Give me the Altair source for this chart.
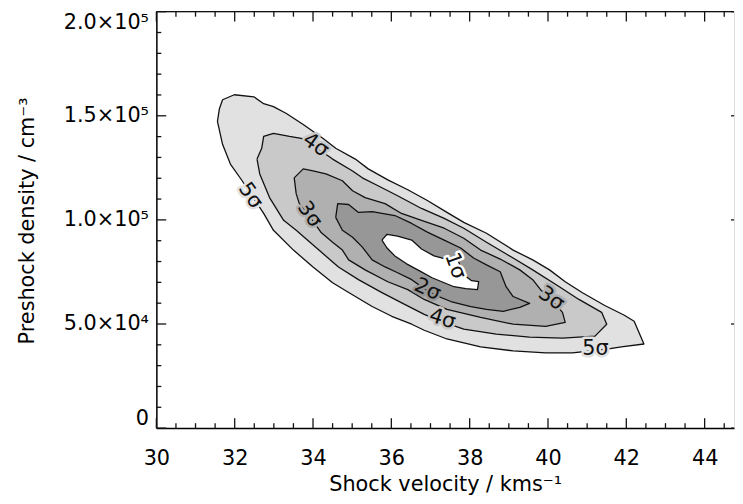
import altair as alt
import pandas as pd

# ---------------- data (velocity km/s, preshock density cm^-3) ----------------
v5 = [31.61, 31.69, 31.99, 32.49, 32.74, 32.99, 33.32, 33.75, 34.25, 34.58, 35.08, 35.41, 35.91,
      36.42, 36.92, 37.42, 37.85, 38.43, 39.11, 39.61, 40.04, 40.44, 40.87, 41.45, 41.95, 42.20,
      42.45, 41.87, 41.55, 40.62, 39.94, 39.11, 38.28, 37.42, 36.84, 36.52, 36.01, 35.51, 34.91,
      34.50, 34.00, 33.50, 32.99, 32.74, 32.44, 32.19, 31.89, 31.69, 31.56]
n5 = [153400, 157700, 160100, 159100, 155800, 154400, 151100, 145800, 139200, 134400, 129200,
      124500, 119200, 114500, 109300, 103600, 98800, 93600, 85500, 80800, 76000, 70300, 65100,
      58900, 54200, 51300, 40400, 39000, 38000, 36100, 36100, 37100, 39000, 42800, 47000, 49900,
      53700, 58400, 65100, 69800, 77400, 85500, 95000, 103100, 111600, 118800, 126800, 136300,
      147300]

v4 = [32.57, 32.69, 32.74, 32.99, 33.40, 33.70, 34.40, 34.50, 35.01, 35.26, 35.66, 36.16, 36.77,
      37.35, 37.85, 38.43, 39.11, 39.61, 40.29, 40.79, 41.37, 41.50, 41.20, 40.37, 39.53, 38.68,
      37.85, 37.27, 36.84, 36.34, 35.76, 35.16, 34.65, 34.15, 33.57, 33.25, 32.89, 32.64]
n4 = [129200, 134400, 140100, 141600, 140100, 139200, 130600, 129200, 123500, 120200, 116400,
      111600, 105500, 100700, 96000, 89300, 81700, 76000, 67900, 61800, 55600, 49900, 44200,
      43200, 43700, 45100, 47500, 51300, 54600, 59400, 65100, 71300, 77400, 85500, 95000, 99800,
      110700, 122100]

v3 = [33.57, 33.52, 33.75, 34.00, 34.33, 34.75, 35.01, 35.33, 35.84, 36.26, 36.77, 37.35, 37.85,
      38.28, 38.78, 39.28, 39.61, 39.81, 40.04, 40.37, 40.44, 39.94, 39.11, 38.28, 37.42, 36.84,
      36.42, 35.91, 35.33, 34.91, 34.75, 34.50, 34.20, 33.90, 33.65]
n3 = [112600, 120200, 124500, 123500, 122100, 118800, 114000, 110700, 107800, 103100, 99800,
      96000, 91200, 85500, 81200, 76000, 71300, 66500, 62700, 55600, 50800, 48900, 49900, 53200,
      57000, 61800, 66500, 70300, 76000, 80800, 85500, 89300, 94100, 102100, 107800]

v2 = [34.58, 34.63, 34.91, 35.16, 35.51, 36.09, 36.52, 36.92, 37.35, 37.77, 38.10, 38.43, 38.78,
      38.93, 39.11, 39.53, 39.28, 38.86, 38.43, 38.03, 37.52, 37.09, 36.84, 36.52, 36.16, 35.84,
      35.51, 35.26, 35.01, 34.75]
n2 = [101200, 107800, 107400, 103600, 104000, 102100, 98300, 94100, 90300, 86500, 81700, 78400,
      75100, 67900, 63200, 59900, 58000, 56100, 57000, 58400, 60800, 64100, 67000, 71300, 74600,
      77400, 80800, 86900, 91700, 95000]

v1 = [35.76, 35.89, 36.16, 36.52, 36.77, 37.09, 37.40, 37.60, 37.72, 37.85, 38.05, 38.23, 38.20,
      37.90, 37.60, 37.35, 37.04, 36.72, 36.39, 36.09, 35.89]
n1 = [90300, 93100, 92200, 90300, 86000, 82700, 81200, 81700, 79800, 73600, 70800, 70300, 66500,
      67000, 67900, 69800, 72200, 75500, 78900, 82700, 86500]

level_names = ["5σ", "4σ", "3σ", "2σ", "1σ"]
level_fill = ["#e1e1e1", "#c9c9c9", "#b0b0b0", "#979797", "#ffffff"]

lab_text = ["5σ", "4σ", "3σ", "2σ", "1σ", "4σ", "3σ", "5σ"]
lab_v = [32.40, 34.07, 33.91, 36.92, 37.63, 37.30, 40.08, 41.21]
lab_n = [111600, 135900, 102600, 66500, 77900, 52300, 62200, 38000]
lab_ang = [55, 35, 55, 25, 70, 18, 35, 0]
lab_halo = ["#e1e1e1", "#c9c9c9", "#b0b0b0", "#979797", "#ffffff", "#c9c9c9", "#b0b0b0", "#e1e1e1"]

x_major = [30, 32, 34, 36, 38, 40, 42, 44]
x_minor = [30.5, 31, 31.5, 32.5, 33, 33.5, 34.5, 35, 35.5, 36.5, 37, 37.5, 38.5, 39, 39.5,
           40.5, 41, 41.5, 42.5, 43, 43.5, 44.5]
y_major = [0, 50000, 100000, 150000, 200000]
y_major_labels = ["0", "5.0×10⁴", "1.0×10⁵", "1.5×10⁵", "2.0×10⁵"]
y_minor = [10000, 20000, 30000, 40000, 60000, 70000, 80000, 90000, 110000, 120000, 130000,
           140000, 160000, 170000, 180000, 190000]

x_title = "Shock velocity / kms⁻¹"
y_title = "Preshock density / cm⁻³"

FONT = "DejaVu Sans"
X_DOMAIN = [30, 44.75]
Y_DOMAIN = [0, 200000]
W, H = 584, 421
MAJ, MIN, RIGHT = 10, 5, 3   # tick lengths in pixels

# ---------------- build tables ----------------
def poly(v, n, g):
    v = list(v) + [v[0]]
    n = list(n) + [n[0]]
    return pd.DataFrame({"v": v, "n": n, "i": range(len(v)), "g": g})

def seg(g, v0, n0, v1, n1):
    return pd.DataFrame({"v": [v0, v1], "n": [n0, n1], "i": [0, 1], "g": [g, g]})

# tick lengths converted from pixels to data units via the plot size
dv = (X_DOMAIN[1] - X_DOMAIN[0]) / W
dn = (Y_DOMAIN[1] - Y_DOMAIN[0]) / H
X0, X1 = X_DOMAIN
Y0, Y1 = Y_DOMAIN

frame_parts = [seg("top", X0, Y1, X1, Y1)]
for t in x_major:
    frame_parts += [seg(f"xb{t}", t, Y0, t, Y0 + MAJ * dn), seg(f"xt{t}", t, Y1, t, Y1 - MAJ * dn)]
for t in x_minor:
    frame_parts += [seg(f"xb{t}", t, Y0, t, Y0 + MIN * dn), seg(f"xt{t}", t, Y1, t, Y1 - MIN * dn)]
for t in y_major:
    frame_parts += [seg(f"yl{t}", X0, t, X0 + MAJ * dv, t), seg(f"yr{t}", X1, t, X1 - RIGHT * dv, t)]
for t in y_minor:
    frame_parts += [seg(f"yl{t}", X0, t, X0 + MIN * dv, t)]

polys = [
    pd.concat([poly(v5, n5, "p5")] + frame_parts, ignore_index=True),
    poly(v4, n4, "p4"), poly(v3, n3, "p3"), poly(v2, n2, "p2"), poly(v1, n1, "p1"),
]
labels_df = pd.DataFrame({"t": lab_text, "v": lab_v, "n": lab_n, "a": lab_ang, "h": lab_halo})

y_expr = " : ".join(f"datum.value == {val} ? '{lab}'" for val, lab in zip(y_major, y_major_labels)) + " : ''"

xs = alt.Scale(domain=X_DOMAIN, nice=False, zero=False)
ys = alt.Scale(domain=Y_DOMAIN, nice=False, zero=True)

x_ax = alt.Axis(orient="bottom", values=x_major, ticks=False, tickSize=0, domain=True,
                domainColor="black", domainWidth=1.5, grid=False,
                labelFontSize=21, labelPadding=20, labelColor="black", labelFont=FONT,
                labelOverlap=False, labelFlush=False,
                title=x_title, titleFontSize=21, titleFontWeight="normal", titleFont=FONT,
                titleColor="black", titleBaseline="middle", titleY=57)
y_ax = alt.Axis(orient="left", values=y_major, ticks=False, tickSize=0, domain=True,
                domainColor="black", domainWidth=1.5, grid=False, labelExpr=y_expr,
                labelFontSize=21, labelPadding=8, labelColor="black", labelFont=FONT,
                labelOverlap=False, labelFlush=True,
                title=y_title, titleFontSize=21, titleFontWeight="normal", titleFont=FONT,
                titleColor="black", titleAngle=270, titleBaseline="middle", titleAlign="center",
                titleX=-130, titleY=211)

XN = lambda f: alt.X(f, scale=xs, axis=None)
YN = lambda f: alt.Y(f, scale=ys, axis=None)

layers = []
for k, df in enumerate(polys):
    layers.append(
        alt.Chart(df).mark_line(fill=level_fill[k], stroke="#111111", strokeWidth=1.3,
                                strokeJoin="round").encode(
            x=alt.X("v:Q", scale=xs, axis=x_ax if k == 0 else None),
            y=alt.Y("n:Q", scale=ys, axis=y_ax if k == 0 else None),
            detail="g:N",
            order=alt.Order("i:Q"),
        )
    )

halo = alt.Chart(labels_df).mark_text(font=FONT, fontSize=21, align="center", baseline="middle",
                                      strokeWidth=5, strokeJoin="round").encode(
    x=XN("v:Q"), y=YN("n:Q"),
    text="t:N",
    angle=alt.Angle("a:Q", scale=None),
    color=alt.Color("h:N", scale=None),
    stroke=alt.Stroke("h:N", scale=None),
)
text = alt.Chart(labels_df).mark_text(font=FONT, fontSize=21, align="center", baseline="middle",
                                      color="#111111").encode(
    x=XN("v:Q"), y=YN("n:Q"),
    text="t:N",
    angle=alt.Angle("a:Q", scale=None),
)

chart = alt.layer(*layers, halo, text).resolve_axis(
    x="independent", y="independent"
).properties(
    width=W, height=H,
    autosize=alt.AutoSizeParams(type="none"),
    padding={"left": 150, "top": 1, "right": 1, "bottom": 74},
).configure_view(stroke=None).configure(font=FONT, background="white")

chart.save("out.html", embed_options={"renderer": "svg", "actions": False})
